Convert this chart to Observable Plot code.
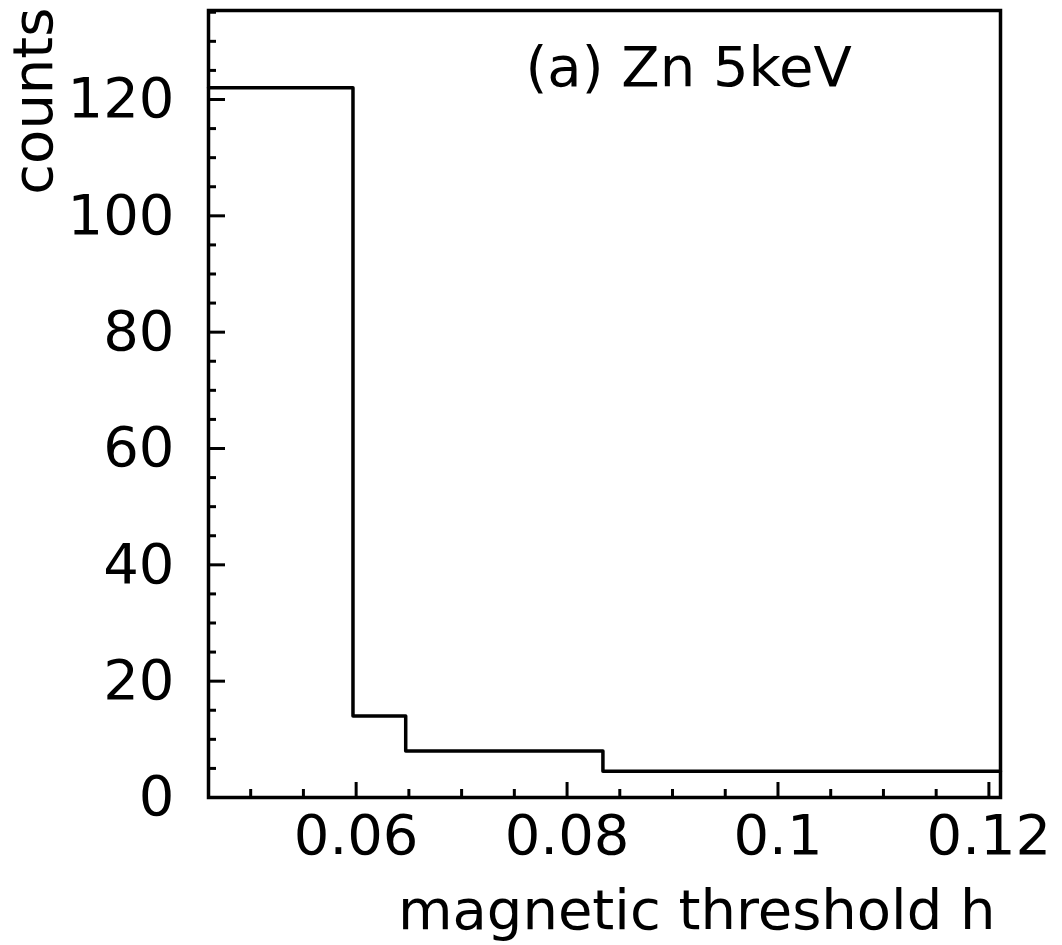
<!DOCTYPE html>
<html><head><meta charset="utf-8">
<script src="https://cdn.jsdelivr.net/npm/d3@7"></script>
<script src="https://cdn.jsdelivr.net/npm/@observablehq/plot@0.6"></script>
<style>body{margin:0;background:#fff}</style>
</head><body><div id="chart"></div>
<script>
const binEdges = [0.046, 0.0597, 0.0647, 0.0834, 0.1211];
const binCounts = [122, 14, 8, 4.5];
const xMajorTicks = [0.06, 0.08, 0.1, 0.12];
const xMinorTicks = [0.05, 0.055, 0.065, 0.07, 0.075, 0.085, 0.09, 0.095, 0.105, 0.11, 0.115];
const yMajorTicks = [0, 20, 40, 60, 80, 100, 120];
const yMinorTicks = [5, 10, 15, 25, 30, 35, 45, 50, 55, 65, 70, 75, 85, 90, 95, 105, 110, 115, 125, 130, 135];
const titleText = "(a) Zn 5keV";
const xLabel = "magnetic threshold h";
const yLabel = "counts";

const W = 1062, H = 945, mL = 208, mR = 62, mT = 10, mB = 148;
const innerW = W - mL - mR, innerH = H - mT - mB;

const steps = binEdges.map((e, i) => ({x: e, y: binCounts[Math.min(i, binCounts.length - 1)]}));

const chart = Plot.plot({
  width: W, height: H,
  marginLeft: mL, marginRight: mR, marginTop: mT, marginBottom: mB,
  x: {domain: [0.046, 0.1211]},
  y: {domain: [0, 135.3]},
  style: {fontFamily: "DejaVu Sans", fontSize: "56px", background: "white", color: "black"},
  marks: [
    Plot.axisX(xMajorTicks, {tickSize: 0, tickPadding: 17, tickFormat: d => String(d), label: null, fontSize: 56}),
    Plot.axisY(yMajorTicks, {tickSize: 0, tickPadding: 34, tickFormat: d => String(d), label: null, fontSize: 56}),
    Plot.tickX(xMajorTicks, {x: d => d, insetTop: innerH - 15, stroke: "black", strokeWidth: 3}),
    Plot.tickX(xMinorTicks, {x: d => d, insetTop: innerH - 8, stroke: "black", strokeWidth: 3}),
    Plot.tickY(yMajorTicks, {y: d => d, insetRight: innerW - 17, stroke: "black", strokeWidth: 3}),
    Plot.tickY(yMinorTicks, {y: d => d, insetRight: innerW - 8, stroke: "black", strokeWidth: 3}),
    Plot.line(steps, {x: "x", y: "y", curve: "step-after", stroke: "black", strokeWidth: 3.5}),
    Plot.text([titleText], {text: d => d, frameAnchor: "top-left", textAnchor: "start", dx: 525 - mL, dy: 36, fontSize: 56, fill: "black"}),
    Plot.text([yLabel], {text: d => d, frameAnchor: "top-left", textAnchor: "end", rotate: -90, dx: 12 - mL, dy: -3, fontSize: 56, fill: "black"}),
    Plot.text([xLabel], {text: d => d, frameAnchor: "bottom-right", textAnchor: "end", dx: -5, dy: 131, fontSize: 56, fill: "black"}),
    Plot.frame({stroke: "black", strokeWidth: 3.5})
  ]
});
document.getElementById("chart").appendChild(chart);
</script>
</body></html>
